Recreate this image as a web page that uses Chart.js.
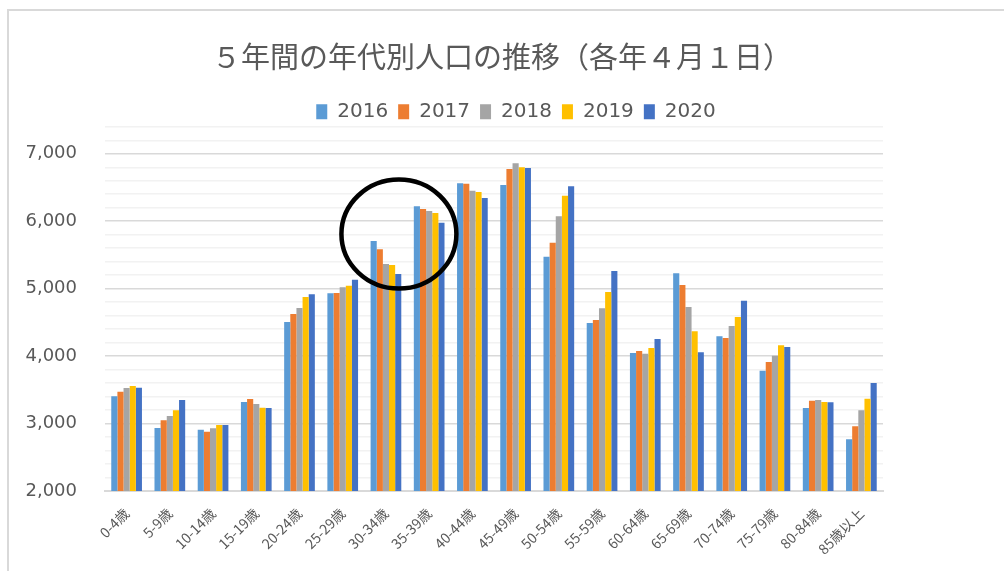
<!DOCTYPE html>
<html lang="ja">
<head>
<meta charset="utf-8">
<title>５年間の年代別人口の推移</title>
<script src="https://cdn.jsdelivr.net/npm/chart.js@4.4.1/dist/chart.umd.min.js"></script>
<style>
  html, body { margin: 0; padding: 0; background: #fff; }
  #wrap { position: relative; width: 1004px; height: 571px; overflow: hidden; }
  /* light frame of the pasted chart object */
  #frame {
    position: absolute; left: 7px; top: 9px; right: -10px; bottom: -10px;
    border-left: 2px solid #d9d9d9; border-top: 2px solid #d9d9d9;
  }
  #popChart { position: absolute; left: 0; top: 0; }
</style>
</head>
<body>
<div id="wrap">
  <div id="frame"></div>
  <canvas id="popChart" width="1004" height="571"></canvas>
</div>
<script>
// ---- data ----
const ageGroups = ['0-4歳', '5-9歳', '10-14歳', '15-19歳', '20-24歳', '25-29歳', '30-34歳', '35-39歳', '40-44歳',
  '45-49歳', '50-54歳', '55-59歳', '60-64歳', '65-69歳', '70-74歳', '75-79歳', '80-84歳', '85歳以上'];
const years = ['2016', '2017', '2018', '2019', '2020'];
const pop2016 = [3404, 2934, 2909, 3320, 4506, 4931, 5707, 6221, 6562, 6537, 5474, 4491, 4046, 5228, 4294, 3784, 3231, 2766];
const pop2017 = [3472, 3048, 2880, 3364, 4625, 4936, 5583, 6181, 6557, 6774, 5682, 4536, 4076, 5054, 4269, 3913, 3339, 2959];
const pop2018 = [3527, 3112, 2929, 3290, 4714, 5020, 5366, 6152, 6453, 6859, 6072, 4709, 4036, 4728, 4447, 4006, 3349, 3196];
const pop2019 = [3557, 3196, 2979, 3235, 4877, 5044, 5351, 6122, 6434, 6800, 6379, 4951, 4120, 4367, 4580, 4160, 3320, 3369];
const pop2020 = [3532, 3349, 2979, 3231, 4916, 5133, 5218, 5979, 6345, 6789, 6518, 5262, 4254, 4056, 4822, 4135, 3315, 3601];
const yMin = 2000;
const yMax = 7400;
const yStep = 200;
const yLabelStep = 1000;

// hand-drawn circle around the 30-34 group (category index, value, radii)
const markCenter = { x: 6.3, y: 5810 };
const markRadius = { x: 1.33, y: 808 };

const seriesColors = ['#5B9BD5', '#ED7D31', '#A5A5A5', '#FFC000', '#4472C4'];
const textColor = '#595959';

const seriesValues = [pop2016, pop2017, pop2018, pop2019, pop2020];

/* ------------------------------------------------
   plugins
------------------------------------------------ */
// pull the plot area a little closer to the legend, and nudge legend right
const legendTweak = {
  id: 'legendTweak',
  beforeInit(chart) {
    const origFit = chart.legend.fit;
    chart.legend.fit = function () {
      origFit.call(chart.legend);
      this.height -= 5;
    };
  },
  afterLayout(chart) {
    chart.legend.left += 14;
    chart.legend.right += 14;
  }
};

// black ellipse annotation
const circleMark = {
  id: 'circleMark',
  afterDatasetsDraw(chart) {
    const { ctx, scales: { x, y } } = chart;
    const cx = x.getPixelForValue(markCenter.x);
    const cy = y.getPixelForValue(markCenter.y);
    const rx = x.getPixelForValue(markCenter.x + markRadius.x) - cx;
    const ry = cy - y.getPixelForValue(markCenter.y + markRadius.y);
    ctx.save();
    ctx.beginPath();
    ctx.ellipse(cx, cy, rx, ry, 0, 0, Math.PI * 2);
    ctx.lineWidth = 4.5;
    ctx.strokeStyle = '#000';
    ctx.stroke();
    ctx.restore();
  }
};

const datasets = years.map((yr, i) => ({
  label: yr,
  data: seriesValues[i],
  backgroundColor: seriesColors[i],
  borderWidth: 0,
  categoryPercentage: 0.71,
  barPercentage: 1.0
}));

new Chart(document.getElementById('popChart'), {
  type: 'bar',
  data: { labels: ageGroups, datasets: datasets },
  options: {
    responsive: false,
    animation: false,
    devicePixelRatio: 1,
    layout: { padding: { left: 0, top: 10, right: 0, bottom: 0 } },
    plugins: {
      title: {
        display: true,
        text: '５年間の年代別人口の推移（各年４月１日）',
        color: textColor,
        font: { family: '"Noto Sans CJK JP", "Noto Sans", sans-serif', size: 29, weight: 'normal' },
        padding: { top: 30, bottom: 17 }
      },
      legend: {
        display: true,
        position: 'top',
        labels: {
          color: textColor,
          font: { family: '"DejaVu Sans", sans-serif', size: 20 },
          boxWidth: 11,
          boxHeight: 15,
          padding: 10
        }
      },
      tooltip: { enabled: false }
    },
    scales: {
      x: {
        grid: { display: false },
        border: { display: true, color: '#d9d9d9', width: 2 },
        ticks: {
          color: textColor,
          font: { family: '"Noto Sans CJK JP", sans-serif', size: 14 },
          minRotation: 45,
          maxRotation: 45,
          autoSkip: false,
          padding: 6
        },
        afterFit(scale) { scale.height = 80; }
      },
      y: {
        min: yMin,
        max: yMax,
        border: { display: false },
        grid: {
          drawTicks: false,
          lineWidth: 1.5,
          color: (c) => (c.tick && c.tick.value % yLabelStep === 0 ? '#d9d9d9' : '#f2f2f2')
        },
        ticks: {
          stepSize: yStep,
          maxTicksLimit: 60,
          autoSkip: false,
          padding: 28,
          color: textColor,
          font: { family: '"DejaVu Sans", sans-serif', size: 18 },
          callback: (v) => (v % yLabelStep === 0 ? v.toLocaleString('en-US') : '')
        },
        afterFit(scale) { scale.width = 105; }
      },
      // empty right-hand axis that only reserves the right margin
      yRight: {
        position: 'right',
        display: true,
        grid: { display: false },
        border: { display: false },
        ticks: { display: false },
        afterFit(scale) { scale.width = 121; }
      }
    }
  },
  plugins: [legendTweak, circleMark]
});
</script>
</body>
</html>
